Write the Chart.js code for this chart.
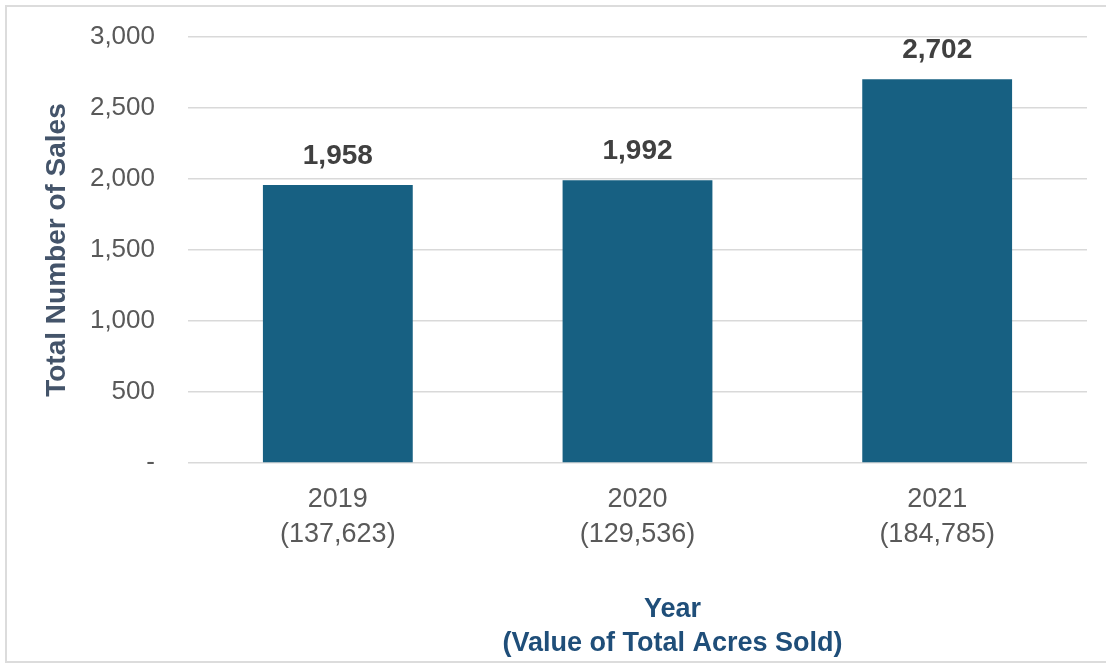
<!DOCTYPE html>
<html>
<head>
<meta charset="utf-8">
<script src="https://cdn.jsdelivr.net/npm/chart.js@4"></script>
<style>
  html, body { margin: 0; padding: 0; background: #ffffff; }
  #wrap { position: relative; width: 1106px; height: 666px; overflow: hidden; }
  #frame { position: absolute; left: 5px; top: 5px; width: 1110px; height: 658px; border: 2px solid #dcdcdc; box-sizing: border-box; }
  #box { position: absolute; left: 0; top: 0; width: 1106px; height: 666px; }
</style>
</head>
<body>
<div id="wrap">
  <div id="frame"></div>
  <div id="box"><canvas id="c"></canvas></div>
</div>
<script>
const years = ['2019', '2020', '2021'];
const acresSold = ['(137,623)', '(129,536)', '(184,785)'];
const totalSales = [1958, 1992, 2702];
const yTickValues = [0, 500, 1000, 1500, 2000, 2500, 3000];
const yAxisTitle = 'Total Number of Sales';
const xAxisTitleLines = ['Year', '(Value of Total Acres Sold)'];

const FONT = '"Liberation Sans", Arial, sans-serif';

const valueLabels = {
  id: 'valueLabels',
  afterDatasetsDraw(chart) {
    const ctx = chart.ctx;
    const meta = chart.getDatasetMeta(0);
    ctx.save();
    ctx.font = 'bold 28px ' + FONT;
    ctx.fillStyle = '#404040';
    ctx.textAlign = 'center';
    ctx.textBaseline = 'middle';
    meta.data.forEach((bar, i) => {
      const v = chart.data.datasets[0].data[i];
      ctx.fillText(v.toLocaleString('en-US'), bar.x, bar.y - 29);
    });
    ctx.restore();
  }
};

const xTitle = {
  id: 'xTitle',
  afterDraw(chart) {
    const ctx = chart.ctx;
    const area = chart.chartArea;
    const cx = (area.left + area.right) / 2 + 35;
    ctx.save();
    ctx.font = 'bold 27px ' + FONT;
    ctx.fillStyle = '#1F4E79';
    ctx.textAlign = 'center';
    ctx.textBaseline = 'middle';
    xAxisTitleLines.forEach((line, i) => {
      ctx.fillText(line, cx, area.bottom + 147 + i * 34);
    });
    ctx.restore();
  }
};

new Chart(document.getElementById('c'), {
  type: 'bar',
  data: {
    labels: years.map((y, i) => [y, acresSold[i]]),
    datasets: [{
      data: totalSales,
      backgroundColor: '#176082',
      borderWidth: 0,
      barPercentage: 0.5,
      categoryPercentage: 1.0
    }]
  },
  options: {
    responsive: true,
    maintainAspectRatio: false,
    animation: false,
    layout: { padding: { left: 30, top: 37, right: 19, bottom: 0 } },
    plugins: {
      legend: { display: false },
      tooltip: { enabled: false }
    },
    scales: {
      x: {
        grid: { display: false, drawTicks: false },
        border: { display: false },
        ticks: {
          color: '#595959',
          font: { family: FONT, size: 27, lineHeight: 1.3 },
          padding: 19,
          maxRotation: 0
        },
        afterFit(scale) { scale.height = 203; }
      },
      y: {
        min: 0,
        max: 3000,
        afterBuildTicks(scale) { scale.ticks = yTickValues.map(v => ({ value: v })); },
        grid: { color: '#d9d9d9', lineWidth: 1.5, drawTicks: false },
        border: { display: false },
        ticks: {
          color: '#595959',
          font: { family: FONT, size: 26 },
          padding: 33,
          callback: (v) => v === 0 ? '-' : Number(v).toLocaleString('en-US')
        },
        title: {
          display: true,
          text: yAxisTitle,
          color: '#44546A',
          font: { family: FONT, size: 28, weight: 'bold' },
          padding: { top: 10, bottom: 0 }
        },
        afterFit(scale) {
          scale.width = 158;
          scale.paddingTop = 0;
          scale.paddingBottom = 0;
        }
      }
    }
  },
  plugins: [valueLabels, xTitle]
});
</script>
</body>
</html>
